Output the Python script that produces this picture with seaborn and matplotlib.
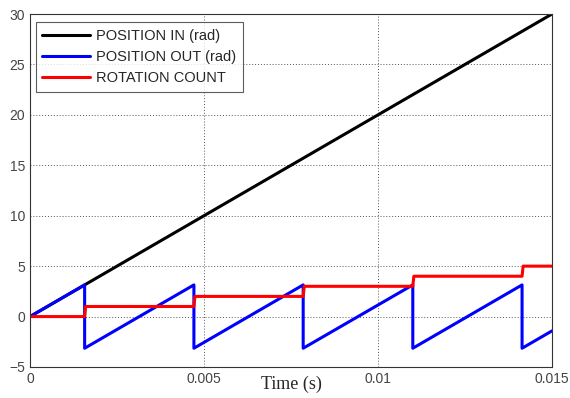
import numpy as np
import pandas as pd
import matplotlib
matplotlib.use("Agg")
import matplotlib.pyplot as plt
import seaborn as sns

# values (breakpoints of each trace)
t_in = [0.0, 0.015]
pos_in = [0.0, 30.0]

t_out = [0.0, 0.00157, 0.00157, 0.00471, 0.00471, 0.00785, 0.00785,
         0.01100, 0.01100, 0.01414, 0.01414, 0.015]
pos_out = [0.0, 3.14, -3.14, 3.14, -3.14, 3.14, -3.14,
           3.14, -3.14, 3.14, -3.14, -1.42]

t_cnt = [0.0, 0.00157, 0.00160, 0.00471, 0.00474, 0.00785, 0.00788,
         0.01100, 0.01103, 0.01414, 0.01417, 0.015]
rot_cnt = [0.0, 0.0, 1.0, 1.0, 2.0, 2.0, 3.0, 3.0, 4.0, 4.0, 5.0, 5.0]

x_ticks = [0, 0.005, 0.01, 0.015]
x_labels = ["0", "0.005", "0.01", "0.015"]
y_ticks = [-5, 0, 5, 10, 15, 20, 25, 30]

sns.set_theme(style="white")
plt.rcParams["font.family"] = ["Liberation Sans", "DejaVu Sans"]

df = pd.concat([
    pd.DataFrame({"t": t_in, "v": pos_in, "s": "POSITION IN (rad)"}),
    pd.DataFrame({"t": t_out, "v": pos_out, "s": "POSITION OUT (rad)"}),
    pd.DataFrame({"t": t_cnt, "v": rot_cnt, "s": "ROTATION COUNT"}),
])

fig = plt.figure(figsize=(5.70, 3.98), dpi=100)
ax = fig.add_axes([30 / 570, 1 - 367 / 398, 522 / 570, 353 / 398])

sns.lineplot(data=df, x="t", y="v", hue="s", sort=False, estimator=None,
             palette=["#000000", "#0000ff", "#ff0000"], linewidth=2.2, ax=ax)

ax.set_xlim(0, 0.015)
ax.set_ylim(-5, 30)
ax.set_xticks(x_ticks)
ax.set_xticklabels(x_labels)
ax.set_yticks(y_ticks)
ax.tick_params(labelsize=10, colors="#444444", length=3, direction="in")
ax.grid(True, linestyle=(0, (1, 2)), color="#555555", linewidth=0.7)
for sp in ax.spines.values():
    sp.set_color("#333333")
    sp.set_linewidth(0.8)

ax.set_ylabel("")
ax.set_xlabel("Time (s)", family="Liberation Serif", fontsize=13, labelpad=-7)

leg = ax.legend(loc="upper left", fontsize=10.5, frameon=True, fancybox=False,
                borderpad=0.45, handlelength=3.3, labelspacing=0.5,
                handletextpad=0.4, borderaxespad=0,
                bbox_to_anchor=(0.011, 0.977))
leg.get_frame().set_edgecolor("#333333")
leg.get_frame().set_linewidth(0.8)
leg.set_title(None)

fig.savefig("out.png", dpi=100)
